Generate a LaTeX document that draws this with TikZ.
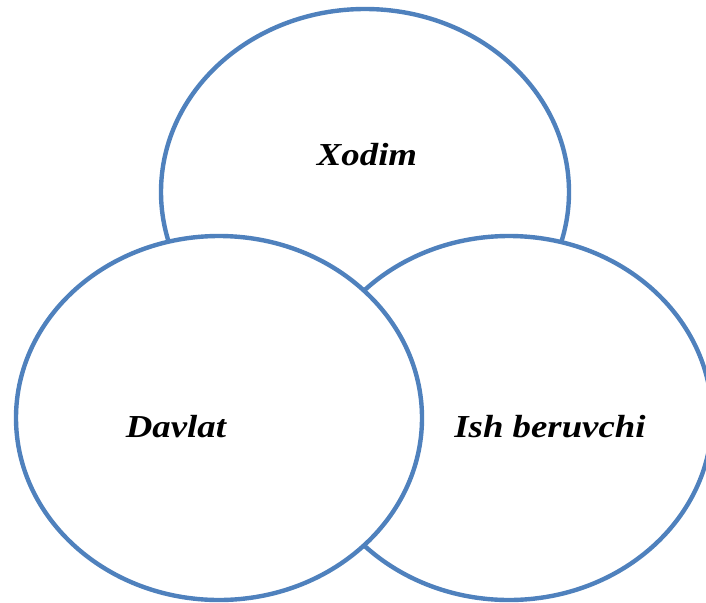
\documentclass[tikz,border=0pt]{standalone}
\usepackage{fontspec}
\setmainfont{Liberation Serif}
\usetikzlibrary{shapes.geometric}
\definecolor{ringblue}{HTML}{4F81BD}
\begin{document}
\begin{tikzpicture}[x=1pt,y=-1pt,
  ring/.style={ellipse, draw=ringblue, line width=4.4pt, fill=white,
    inner sep=0pt, outer sep=0pt, minimum width=406pt, minimum height=364pt},
  label/.style={anchor=base, inner sep=0pt, xscale=1.15,
    font=\fontsize{32}{38}\selectfont\bfseries\itshape}]
  \useasboundingbox (0,0) rectangle (706,602);
  \begin{scope}
    \clip (0,0) rectangle (706,602);
    % back to front: top ring, right ring, left ring
    \node[ring, minimum width=408pt, minimum height=366pt] (xodim) at (365,192) {};
    \node[ring] (ish) at (509,418) {};
    \node[ring] (davlat) at (219,418) {};
  \end{scope}
  \node[label] (tx) at (367,165) {Xodim};
  \node[label] (td) at (176,437) {Davlat};
  \node[label] (ti) at (550,437) {Ish beruvchi};
\end{tikzpicture}
\end{document}
